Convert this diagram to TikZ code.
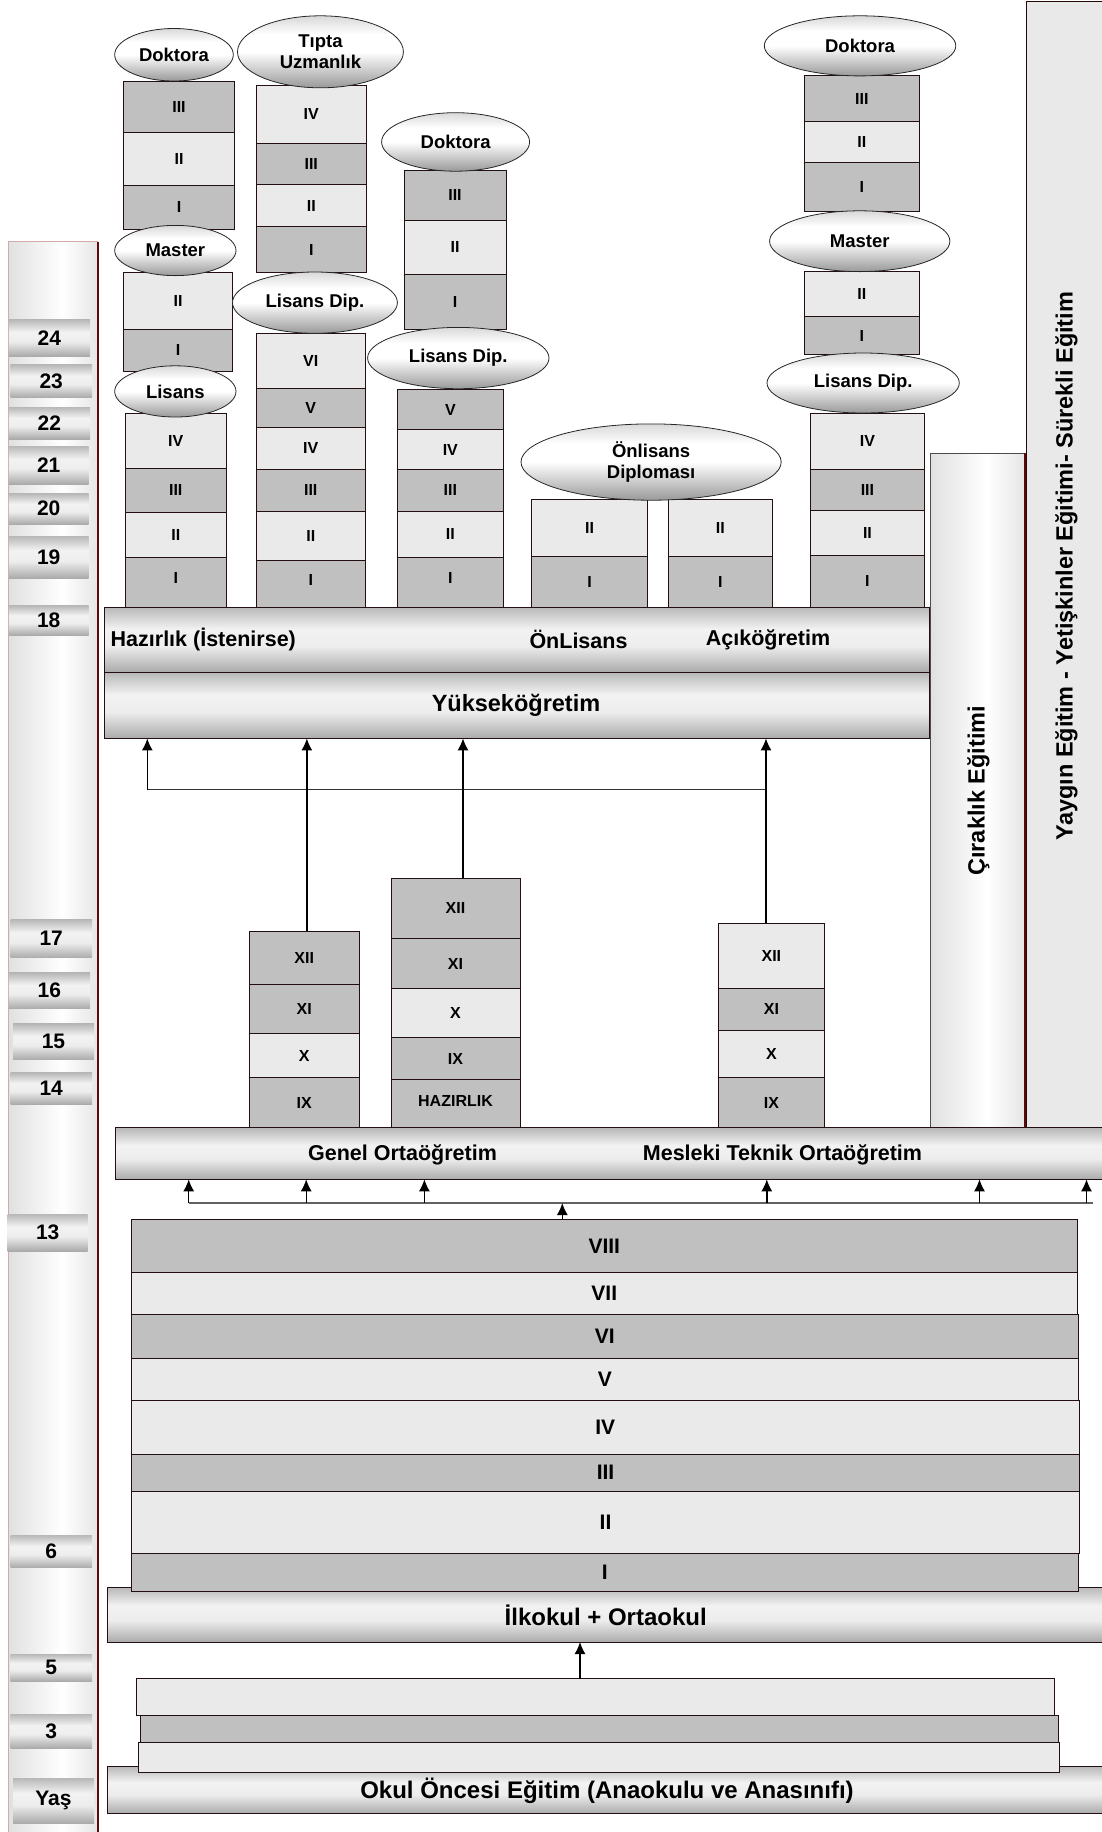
\documentclass[tikz,border=0pt]{standalone}
\usepackage{fontspec}
\setmainfont{Liberation Sans}
\usetikzlibrary{arrows.meta}
\usetikzlibrary{shapes.geometric}

\definecolor{cellDark}{RGB}{192,192,192}
\definecolor{cellLight}{RGB}{234,234,234}
\definecolor{edgecol}{RGB}{35,15,15}
\definecolor{wine}{RGB}{90,10,10}
\definecolor{rosy}{RGB}{215,170,170}
\definecolor{colfill}{RGB}{233,233,233}

\pgfdeclareverticalshading{barshade}{100bp}{color(0bp)=(black!33); color(25bp)=(black!33); color(45bp)=(black!7); color(58bp)=(black!5); color(75bp)=(black!28); color(100bp)=(black!28)}
\pgfdeclareverticalshading{ellshade}{100bp}{color(0bp)=(black!40); color(25bp)=(black!40); color(50bp)=(white); color(62bp)=(white); color(75bp)=(black!15); color(100bp)=(black!15)}
\pgfdeclarehorizontalshading{colshade}{100bp}{color(0bp)=(black!12); color(25bp)=(black!12); color(55bp)=(white); color(75bp)=(black!10); color(100bp)=(black!10)}

\tikzset{
  cellbox/.style={draw=edgecol, line width=0.9pt, inner sep=0pt, outer sep=0pt,
    font=\fontsize{16}{18}\selectfont\bfseries},
  dk/.style={cellbox, fill=cellDark},
  lt/.style={cellbox, fill=cellLight},
  bigdk/.style={dk, font=\fontsize{21}{24}\selectfont\bfseries},
  biglt/.style={lt, font=\fontsize{21}{24}\selectfont\bfseries},
  degree/.style={ellipse, draw=black!85, line width=0.8pt, shading=ellshade,
    inner sep=0pt, align=center, font=\fontsize{18.5}{21}\selectfont\bfseries},
  band/.style={draw=edgecol, line width=1pt, shading=barshade, inner sep=0pt, outer sep=0pt},
  bandtext/.style={inner sep=0pt, font=\fontsize{21.5}{24}\selectfont\bfseries},
  bigtext/.style={inner sep=0pt, font=\fontsize{24}{26}\selectfont\bfseries},
  sidetext/.style={rotate=90, inner sep=0pt, font=\fontsize{23.5}{26}\selectfont\bfseries},
  agebox/.style={shading=barshade, inner sep=0pt, outer sep=0pt,
    font=\fontsize{21}{24}\selectfont\bfseries},
  up/.style={-{Latex[length=12pt,width=11pt]}, line width=1.4pt},
  bus/.style={line width=2.8pt, black!62},
}

% box from (x1,y1) to (x2,y2), y counted downwards
\newcommand{\cell}[7]{\node[#2, minimum width={#5-#3}, minimum height={#6-#4}] (#1) at ({(#3+#5)/2},{(#4+#6)/2}) {#7};}
\newcommand{\degreeoval}[6]{\node[degree, minimum width={#4-#2}, minimum height={#5-#3}] (#1) at ({(#2+#4)/2},{(#3+#5)/2}) {#6};}

\begin{document}
\begin{tikzpicture}[x=1pt,y=-1pt]
\useasboundingbox (0,0) rectangle (1101,1832);

% side columns
\shade[shading=colshade] (8.5,241.5) rectangle (98,1845);
\draw[rosy, line width=0.8pt] (8.5,1845) -- (8.5,241.5) -- (98,241.5);
\draw[wine, line width=1.5pt] (98,241.5) -- (98,1845);

\fill[colfill] (1026.7,1.7) rectangle (1112,1128);
\draw[black!55!wine, line width=1pt] (1112,1.7) -- (1026.7,1.7) -- (1026.7,1128);

\shade[shading=colshade] (930.2,453.3) rectangle (1025,1128);
\draw[black!70, line width=0.9pt] (930.2,1128) -- (930.2,453.3) -- (1025,453.3);
\draw[wine, line width=1.5pt] (1025,453.3) -- (1025,1128);

% higher education stacks
\foreach \n/\s/\a/\b in {III/dk/81/132.5, II/lt/132.5/185, I/dk/185/229.3}
  \cell{dokA\n}{\s}{123.5}{\a}{234.5}{\b}{\n};
\foreach \n/\s/\a/\b in {II/lt/272.8/329, I/dk/329/371.7}
  \cell{masA\n}{\s}{123.5}{\a}{232.5}{\b}{\n};
\foreach \n/\s/\a/\b in {IV/lt/413/468.6, III/dk/468.6/512, II/lt/512/557.5}
  \cell{lisA\n}{\s}{125.5}{\a}{226}{\b}{\n};
\cell{lisAI}{dk}{125.5}{557.5}{226}{607}{\raisebox{9pt}{I}}

\foreach \n/\s/\a/\b in {IV/lt/85/143, III/dk/143/184.7, II/lt/184.7/226.6, I/dk/226.6/272.8}
  \cell{tipB\n}{\s}{256.5}{\a}{366}{\b}{\n};
\foreach \n/\s/\a/\b in {VI/lt/333.3/388.7, V/dk/388.7/427, IV/lt/427/469.7, III/dk/469.7/511, II/lt/511/560.7}
  \cell{lisB\n}{\s}{256}{\a}{365.5}{\b}{\n};
\cell{lisBI}{dk}{256}{560.7}{365.5}{607}{\raisebox{7pt}{I}}

\foreach \n/\s/\a/\b in {III/dk/170/220, II/lt/220/274, I/dk/274/329}
  \cell{dokC\n}{\s}{404}{\a}{506}{\b}{\n};
\foreach \n/\s/\a/\b in {V/dk/389.5/429.8, IV/lt/429.8/469.4, III/dk/469.4/511.3, II/lt/511.3/557.5}
  \cell{lisC\n}{\s}{397.4}{\a}{503.3}{\b}{\n};
\cell{lisCI}{dk}{397.4}{557.5}{503.3}{607}{\raisebox{8pt}{I}}

\foreach \n/\s/\a/\b in {II/lt/499/556.7, I/dk/556.7/607} {
  \cell{onlD\n}{\s}{531.8}{\a}{647.3}{\b}{\n};
  \cell{onlE\n}{\s}{668.8}{\a}{772}{\b}{\n};
}

\foreach \n/\s/\a/\b in {III/dk/75.9/121.8, II/lt/121.8/162, I/dk/162/211.5}
  \cell{dokF\n}{\s}{804.7}{\a}{919}{\b}{\n};
\foreach \n/\s/\a/\b in {II/lt/271.6/316.3, I/dk/316.3/354.7}
  \cell{masF\n}{\s}{804.7}{\a}{919}{\b}{\n};
\foreach \n/\s/\a/\b in {IV/lt/413/469.7, III/dk/469.7/510.9, II/lt/510.9/555.5, I/dk/555.5/607}
  \cell{lisF\n}{\s}{810.7}{\a}{924.2}{\b}{\n};

% degrees
\degreeoval{dokAo}{114.7}{28.5}{233.3}{81}{Doktora}
\degreeoval{masAo}{114.7}{225.4}{236}{275.6}{Master}
\degreeoval{lisAo}{114.7}{365.8}{236}{417}{Lisans}
\degreeoval{tipBo}{237.5}{15.8}{403.4}{87.8}{Tıpta\\Uzmanlık}
\degreeoval{lisBo}{232.5}{272}{397.4}{333.3}{Lisans Dip.}
\degreeoval{dokCo}{381.6}{112.7}{529.6}{171.2}{Doktora}
\degreeoval{lisCo}{367.6}{327.4}{549}{388.7}{Lisans Dip.}
\degreeoval{onlDo}{521}{423.9}{781.2}{500.2}{Önlisans\\Diploması}
\degreeoval{dokFo}{764.3}{15.8}{955.8}{75.9}{Doktora}
\degreeoval{masFo}{769.6}{210.8}{949.9}{271.6}{Master}
\degreeoval{lisFo}{767}{353}{959.3}{413}{Lisans Dip.}

% higher education bands
\cell{hz}{band}{104.5}{607}{929.5}{672}{}
\cell{yuk}{band}{104.5}{672}{929.5}{738.4}{}
\node[bandtext, anchor=west] (hzA) at (110.5,639.5) {Hazırlık (İstenirse)};
\node[bandtext] (hzB) at (578.5,639.5) {ÖnLisans};
\node[bandtext] (hzC) at (768,639.5) {Açıköğretim};
\node[bandtext, font=\fontsize{23.5}{26}\selectfont\bfseries] (yukT) at (516,705.5) {Yükseköğretim};

% secondary stacks
\foreach \n/\s/\a/\b in {XII/dk/931.4/984.3, XI/dk/984.3/1033.8, X/lt/1033.8/1077.7, IX/dk/1077.7/1127.9}
  \cell{genA\n}{\s}{249}{\a}{359.5}{\b}{\n};
\foreach \n/\s/\a/\b in {XII/dk/878/938.9, XI/dk/938.9/988.3, X/lt/988.3/1037.7, IX/dk/1037.7/1079.6}
  \cell{genB\n}{\s}{391}{\a}{520}{\b}{\n};
\cell{genBH}{dk}{391}{1079.6}{520}{1127.9}{\raisebox{6pt}{HAZIRLIK}}
\foreach \n/\s/\a/\b in {XII/lt/923.4/988.3, XI/dk/988.3/1030.2, X/lt/1030.2/1077.7, IX/dk/1077.7/1127.9}
  \cell{mesC\n}{\s}{718}{\a}{824.8}{\b}{\n};

\cell{ort}{band}{115.7}{1127.9}{1112}{1179.3}{}
\node[bandtext] (ortA) at (402.5,1155) {Genel Ortaöğretim};
\node[bandtext] (ortB) at (782.5,1155) {Mesleki Teknik Ortaöğretim};

% ways up to higher education
\coordinate (jL) at (147.3,789.8);
\coordinate (jR) at ([xshift=-5.4pt]mesCXII.north |- jL);
\draw[black!80, line width=0.9pt] (jL) -- (jR);
\draw[up] (jL) -- (jL |- yuk.south);
\draw[up] ([xshift=2.6pt]genAXII.north) -- ([xshift=2.6pt]genAXII.north |- yuk.south);
\draw[up] ([xshift=7.5pt]genBXII.north) -- ([xshift=7.5pt]genBXII.north |- yuk.south);
\draw[up] ([xshift=-5.4pt]mesCXII.north) -- ([xshift=-5.4pt]mesCXII.north |- yuk.south);

% primary school
\cell{ilk}{band}{107.7}{1587}{1112}{1642}{}
\node[bigtext] (ilkT) at (605.7,1615) {İlkokul + Ortaokul};
\foreach \n/\s/\a/\b/\r in {VIII/bigdk/1219.3/1272.6/1077, VII/biglt/1272.6/1314.9/1077,
    VI/bigdk/1314.9/1358/1078, V/biglt/1358/1400.3/1078, IV/biglt/1400.3/1454/1079,
    III/bigdk/1454/1491/1079.5, II/biglt/1491/1553.5/1079.5, I/bigdk/1553.5/1591/1078}
  \cell{prim\n}{\s}{131.5}{\a}{\r}{\b}{\n};

% ways up to secondary education
\coordinate (kL) at (188.7,1203);
\coordinate (kR) at (1093,1203);
\draw[bus] (kL) -- (kR);
\foreach \x in {188.7,306.2,424.4,766.8,979.5,1086.5}
  \draw[up] (kL -| \x,0) -- (ort.south -| \x,0);
\draw[up] (primVIII.north -| 562.3,0) -- (kL -| 562.3,0);

% pre-school
\cell{ook}{band}{107}{1766.3}{1112}{1813.4}{}
\cell{pre3}{lt}{138.5}{1742}{1059.5}{1772.4}{}
\cell{pre2}{dk}{140.3}{1715}{1058.4}{1742}{}
\cell{pre1}{lt}{136}{1678.8}{1054.2}{1715}{}
\node[bigtext] (ookT) at (607,1791) {Okul Öncesi Eğitim (Anaokulu ve Anasınıfı)};
\draw[up] (pre1.north -| 580,0) -- (ilk.south -| 580,0);

% ages
\foreach \t/\a/\b/\c/\d [count=\i] in {24/8.8/319.5/90/356, 23/10.5/364.6/92/397.4,
    22/8.8/407/90/439, 21/8.8/446/88.7/484, 20/8.8/493.5/88.7/524, 19/8.8/536/88.7/578,
    18/8.8/605.5/88.7/635, 17/10.5/919.5/92/957.8, 16/8.8/972.9/90/1008.5,
    15/13/1023.9/94/1059.5, 14/10.5/1072.5/92/1104, 13/7.7/1214/87.7/1251,
    6/10.5/1535/92/1567.6, 5/10.5/1654/92/1681, 3/10.5/1714/92/1748, Yaş/13/1778/94/1823}
  \cell{age\i}{agebox}{\a}{\b}{\c}{\d}{\t};

% side texts
\node[sidetext] (cirT) at (978.5,790.8) {Çıraklık Eğitimi};
\node[sidetext] (yayT) at (1066.5,566) {Yaygın Eğitim - Yetişkinler Eğitimi- Sürekli Eğitim};
\end{tikzpicture}
\end{document}
